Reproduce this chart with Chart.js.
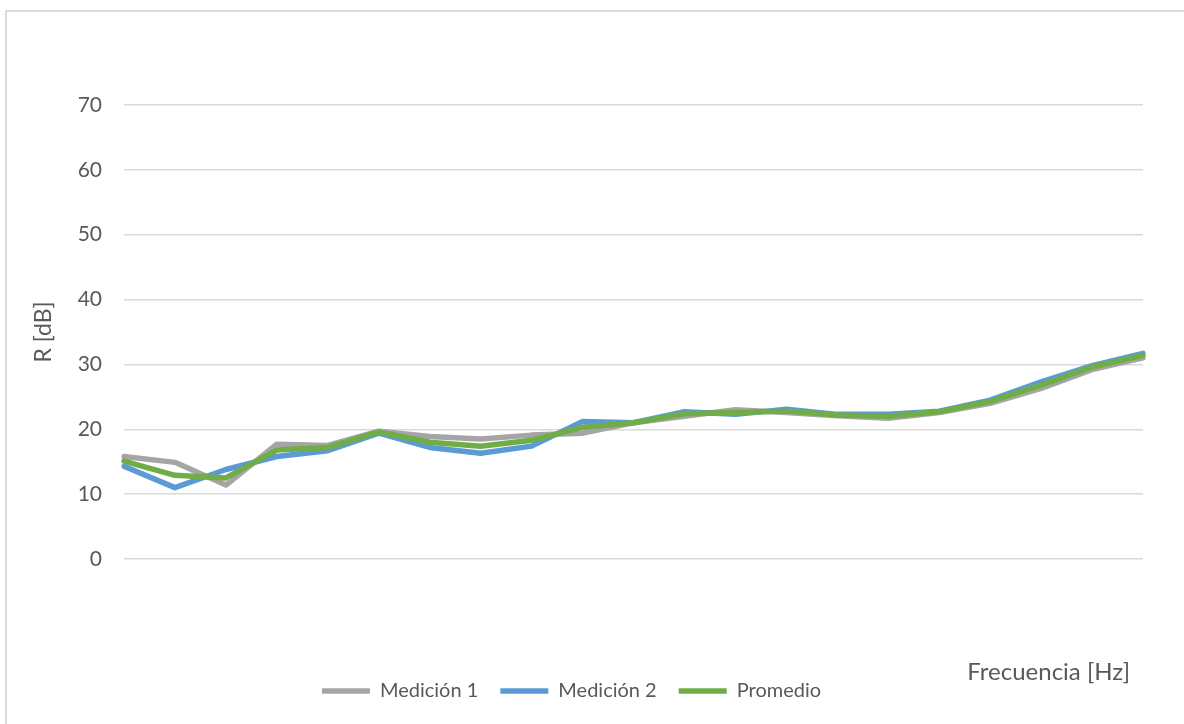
<!DOCTYPE html>
<html>
<head>
<meta charset="utf-8">
<script src="https://cdn.jsdelivr.net/npm/chart.js@4.4.1/dist/chart.umd.min.js"></script>
<style>
  html, body { margin: 0; padding: 0; background: #fff; overflow: hidden; }
  #wrap { position: relative; width: 1184px; height: 724px; }
  #marco { position: absolute; left: 5px; top: 10px; width: 1300px; height: 900px; border: 2px solid #d9d9d9; box-sizing: border-box; }
  canvas { position: absolute; left: 0; top: 0; }
</style>
</head>
<body>
<div id="wrap">
  <div id="marco"></div>
  <canvas id="grafico" width="1184" height="724"></canvas>
</div>
<script>
// Bandas de tercio de octava (etiquetas ocultas en el gráfico)
const bandas = ['100', '125', '160', '200', '250', '315', '400', '500', '630', '800', '1000',
  '1250', '1600', '2000', '2500', '3150', '4000', '5000', '6300', '8000', '10000'];

// R [dB]
const medicion1 = [15.8, 14.9, 11.4, 17.7, 17.5, 19.7, 18.9, 18.5, 19.1, 19.4, 21.0,
  22.0, 23.0, 22.6, 22.1, 21.7, 22.6, 24.0, 26.3, 29.2, 31.0];
const medicion2 = [14.3, 11.0, 13.8, 15.8, 16.7, 19.4, 17.2, 16.3, 17.4, 21.2, 21.0,
  22.7, 22.3, 23.1, 22.3, 22.3, 22.8, 24.5, 27.3, 29.8, 31.7];
const promedio = [15.1, 12.9, 12.5, 16.8, 17.2, 19.6, 18.0, 17.4, 18.3, 20.3, 21.0,
  22.4, 22.6, 22.8, 22.2, 22.0, 22.7, 24.3, 26.8, 29.6, 31.4];

const yTicks = [0, 10, 20, 30, 40, 50, 60, 70];

const GRIS = '#a5a5a5';
const AZUL = '#5b9bd5';
const VERDE = '#70ad47';
const TEXTO = '#595959';
const FUENTE = 'Lato';

// Título del eje X dibujado a la derecha, como en Excel
const tituloX = {
  id: 'tituloX',
  afterDraw(chart) {
    const { ctx, chartArea } = chart;
    ctx.save();
    ctx.font = '24px ' + FUENTE;
    ctx.fillStyle = TEXTO;
    ctx.textAlign = 'right';
    ctx.textBaseline = 'middle';
    ctx.fillText('Frecuencia [Hz]', chartArea.right - 13, chartArea.bottom + 113);
    ctx.restore();
  }
};

function serie(label, data, color, order) {
  return {
    label,
    data,
    borderColor: color,
    backgroundColor: color,
    borderWidth: 5.5,
    borderCapStyle: 'round',
    borderJoinStyle: 'round',
    pointRadius: 0,
    pointHoverRadius: 0,
    pointStyle: 'line',
    tension: 0,
    order
  };
}

new Chart(document.getElementById('grafico').getContext('2d'), {
  type: 'line',
  data: {
    labels: bandas,
    datasets: [
      serie('Medición 1', medicion1, GRIS, 3),
      serie('Medición 2', medicion2, AZUL, 2),
      serie('Promedio', promedio, VERDE, 1)
    ]
  },
  options: {
    responsive: false,
    animation: false,
    layout: { padding: { top: 105, left: 0, right: 41, bottom: 13 } },
    plugins: {
      tooltip: { enabled: false },
      legend: {
        position: 'bottom',
        labels: {
          usePointStyle: true,
          pointStyleWidth: 48,
          boxHeight: 20,
          padding: 22,
          color: TEXTO,
          font: { family: FUENTE, size: 20 },
          sort: (a, b) => a.datasetIndex - b.datasetIndex
        }
      }
    },
    scales: {
      x: {
        offset: false,
        ticks: { display: false },
        grid: { display: false },
        border: { display: false },
        afterFit: (scale) => { scale.height = 100; }
      },
      y: {
        min: 0,
        max: 70,
        afterBuildTicks: (scale) => { scale.ticks = yTicks.map(v => ({ value: v })); },
        ticks: { color: TEXTO, padding: 22, font: { family: FUENTE, size: 21 } },
        grid: { color: '#d9d9d9', lineWidth: 1.5, drawTicks: false },
        border: { display: false },
        title: {
          display: true,
          text: 'R [dB]',
          color: TEXTO,
          font: { family: FUENTE, size: 23 },
          padding: { top: 30, bottom: 0 }
        },
        afterFit: (scale) => { scale.width = 124; }
      }
    }
  },
  plugins: [tituloX]
});
</script>
</body>
</html>
